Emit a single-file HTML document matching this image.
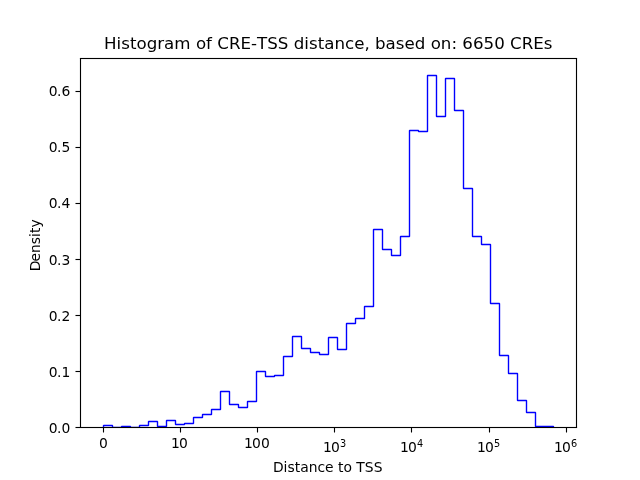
<!DOCTYPE html>
<html><head><meta charset="utf-8"><title>Histogram of CRE-TSS distance</title>
<style>html,body{margin:0;padding:0;background:#fff}svg{display:block}text{font-family:'DejaVu Sans','Liberation Sans',sans-serif;fill:#000}</style></head>
<body>
<svg width="640" height="480" viewBox="0 0 640 480">
<rect width="640" height="480" fill="#fff"/>
<defs><clipPath id="axclip"><rect x="80" y="57.6" width="496" height="369.6"/></clipPath></defs>
<path d="M103.5 427.5 L103.5 425.5 L112.5 425.5 L112.5 427.5 L121.5 427.5 L121.5 426.5 L130.5 426.5 L130.5 427.5 L139.5 427.5 L139.5 425.5 L148.5 425.5 L148.5 421.5 L157.5 421.5 L157.5 426.5 L166.5 426.5 L166.5 420.5 L175.5 420.5 L175.5 424.5 L184.5 424.5 L184.5 423.5 L193.5 423.5 L193.5 417.5 L202.5 417.5 L202.5 414.5 L211.5 414.5 L211.5 409.5 L220.5 409.5 L220.5 391.5 L229.5 391.5 L229.5 404.5 L238.5 404.5 L238.5 407.5 L247.5 407.5 L247.5 401.5 L256.5 401.5 L256.5 371.5 L265.5 371.5 L265.5 376.5 L274.5 376.5 L274.5 375.5 L283.5 375.5 L283.5 356.5 L292.5 356.5 L292.5 336.5 L301.5 336.5 L301.5 348.5 L310.5 348.5 L310.5 352.5 L319.5 352.5 L319.5 354.5 L328.5 354.5 L328.5 337.5 L337.5 337.5 L337.5 349.5 L346.5 349.5 L346.5 323.5 L355.5 323.5 L355.5 318.5 L364.5 318.5 L364.5 306.5 L373.5 306.5 L373.5 229.5 L382.5 229.5 L382.5 249.5 L391.5 249.5 L391.5 255.5 L400.5 255.5 L400.5 236.5 L409.5 236.5 L409.5 130.5 L418.5 130.5 L418.5 131.5 L427.5 131.5 L427.5 75.5 L436.5 75.5 L436.5 116.5 L445.5 116.5 L445.5 78.5 L454.5 78.5 L454.5 110.5 L463.5 110.5 L463.5 188.5 L472.5 188.5 L472.5 236.5 L481.5 236.5 L481.5 244.5 L490.5 244.5 L490.5 303.5 L499.5 303.5 L499.5 355.5 L508.5 355.5 L508.5 373.5 L517.5 373.5 L517.5 400.5 L526.5 400.5 L526.5 412.5 L535.5 412.5 L535.5 426.5 L544.5 426.5 L544.5 426.5 L553.5 426.5 L553.5 427.5" fill="none" stroke="#0000ff" stroke-width="1.389" stroke-linejoin="bevel" stroke-linecap="butt" clip-path="url(#axclip)"/>
<path d="M103.5 427.5 v5 M180.5 427.5 v5 M257.5 427.5 v5 M334.5 427.5 v5 M411.5 427.5 v5 M489.5 427.5 v5 M566.5 427.5 v5" fill="none" stroke="#000" stroke-width="1.111"/>
<path d="M80.5 58.5 V427.5 M576.5 58.5 V427.5" fill="none" stroke="#000" stroke-width="1.111" stroke-linecap="square"/>
<path d="M79.9444 57 h497.111 v3 h-497.111 z M79.9444 426 h497.111 v3 h-497.111 z M75.5 426 h5 v3 h-5 z M75.5 370 h5 v3 h-5 z M75.5 314 h5 v3 h-5 z M75.5 258 h5 v3 h-5 z M75.5 202 h5 v3 h-5 z M75.5 146 h5 v3 h-5 z M75.5 90 h5 v3 h-5 z" fill="#000" fill-opacity="0.055"/>
<path d="M79.9444 58 h497.111 v1 h-497.111 z M79.9444 427 h497.111 v1 h-497.111 z M75.5 427 h5 v1 h-5 z M75.5 371 h5 v1 h-5 z M75.5 315 h5 v1 h-5 z M75.5 259 h5 v1 h-5 z M75.5 203 h5 v1 h-5 z M75.5 147 h5 v1 h-5 z M75.5 91 h5 v1 h-5 z" fill="#000"/>
<text x="99.09" y="448" font-size="13.889">0</text>
<text x="171 179" y="448" font-size="13.889">10</text>
<text x="244 252 261" y="448" font-size="13.889">100</text>
<text x="323 331" y="452" font-size="13.889">10</text>
<text x="340" y="447" font-size="9.722">3</text>
<text x="400 408" y="452" font-size="13.889">10</text>
<text x="417" y="447" font-size="9.722">4</text>
<text x="477 485" y="452" font-size="13.889">10</text>
<text x="494" y="447" font-size="9.722">5</text>
<text x="554 562" y="452" font-size="13.889">10</text>
<text x="571" y="447" font-size="9.722">6</text>
<text x="48.87 57.05 61.46" y="433" font-size="13.889">0.0</text>
<text x="48.87 57.05 61.46" y="377" font-size="13.889">0.1</text>
<text x="48.87 57.05 61.46" y="321" font-size="13.889">0.2</text>
<text x="48.87 57.05 61.46" y="265" font-size="13.889">0.3</text>
<text x="48.87 57.05 61.46" y="208" font-size="13.889">0.4</text>
<text x="48.87 57.05 61.46" y="152" font-size="13.889">0.5</text>
<text x="48.87 57.05 61.46" y="96" font-size="13.889">0.6</text>
<text x="327.7" y="472" font-size="13.889" text-anchor="middle">Distance to TSS</text>
<text transform="translate(39.75 271.275) rotate(-90)" font-size="13.889" x="0 9.8">Density</text>
<text x="328.3" y="49.3" font-size="16.667" text-anchor="middle" textLength="448.5" lengthAdjust="spacing" style="font-kerning:none">Histogram of CRE-TSS distance, based on: 6650 CREs</text>
</svg>
</body></html>
